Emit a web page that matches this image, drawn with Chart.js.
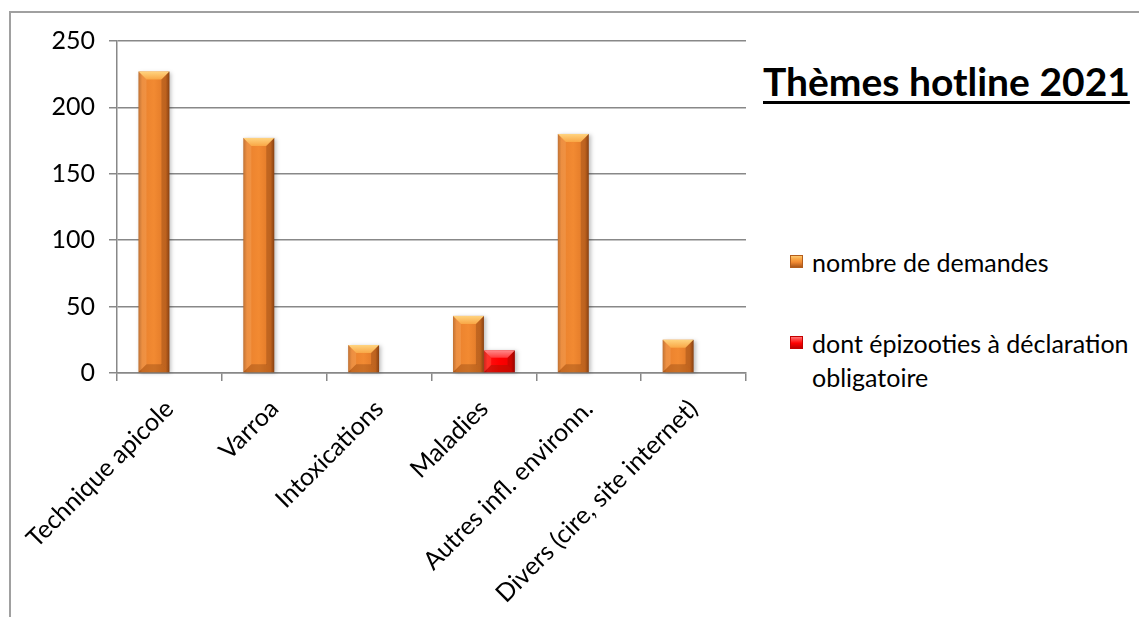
<!DOCTYPE html>
<html lang="fr">
<head>
<meta charset="utf-8">
<title>Thèmes hotline 2021</title>
<script src="https://cdn.jsdelivr.net/npm/chart.js@4.4.1/dist/chart.umd.min.js"></script>
<style>
  html, body { margin: 0; padding: 0; background: #fff; width: 1139px; height: 617px; overflow: hidden; }
  body { position: relative; font-family: Lato, "Open Sans", sans-serif; color: #000; }
  #cadre { position: absolute; left: 9px; top: 11px; width: 1300px; height: 800px;
           border-top: 2px solid #a0a0a0; border-left: 2px solid #a0a0a0; }
  #zone { position: absolute; left: 0; top: 0; width: 760px; height: 617px; }
  #titre { position: absolute; left: 763px; top: 58px; font-size: 39px; font-weight: bold;
           line-height: 47px; white-space: nowrap; text-decoration: underline;
           text-decoration-thickness: 3px; text-underline-offset: 5px; }
  .leg { position: absolute; left: 790px; font-size: 25px; line-height: 34px; white-space: nowrap; }
  .leg .boite { position: absolute; left: 0; top: 10px; width: 13px; height: 13px; }
  .leg .txt { position: absolute; left: 22px; top: 0; }
</style>
</head>
<body>
<div id="cadre"></div>
<div id="zone"><canvas id="graphique" width="760" height="617"></canvas></div>
<div id="titre">Thèmes hotline 2021</div>
<div id="legende"></div>

<script>
// données
const categories = ["Technique apicole", "Varroa", "Intoxications", "Maladies",
                    "Autres infl. environn.", "Divers (cire, site internet)"];
const nombreDemandes = [227, 177, 21, 43, 180, 25];
const epizooties = [0, 0, 0, 17, 0, 0];
const nomsSeries = ["nombre de demandes", "dont épizooties à déclaration obligatoire"];
const graduationsY = [0, 50, 100, 150, 200, 250];

// styles (couleurs des barres en relief)
const styles = [
  { corps: ["#b35d1c", "#ea812d", "#f28a32", "#e07827", "#9c4d16"], haut: ["#ffd480", "#f9a746"] },
  { corps: ["#c40000", "#ff1010", "#ff0000", "#f00000", "#b00000"], haut: ["#ff8a8a", "#ff3a3a"] }
];
const gris = "#888888";

const legendeLignes = [
  { top: 245, lignes: [nomsSeries[0]] },
  { top: 326, lignes: ["dont épizooties à déclaration", "obligatoire"] }
];

const legendeDiv = document.getElementById("legende");
legendeLignes.forEach((item, i) => {
  const div = document.createElement("div");
  div.className = "leg";
  div.style.top = item.top + "px";
  const s = styles[i];
  div.innerHTML = `<span class="boite" style="background:linear-gradient(180deg, ${s.haut[0]} 0%, ${s.haut[1]} 30%, ${s.corps[2]} 55%, ${s.corps[4]} 100%);box-shadow:inset 0 0 0 1px ${s.corps[0]}"></span>` +
    `<span class="txt">${item.lignes.join("<br>")}</span>`;
  legendeDiv.appendChild(div);
});

// relief des barres, dessiné à partir des éléments de Chart.js
const reliefBarres = {
  id: "reliefBarres",
  afterDatasetsDraw(chart) {
    const ctx = chart.ctx;
    chart.data.datasets.forEach((ds, i) => {
      const meta = chart.getDatasetMeta(i);
      const s = styles[i];
      meta.data.forEach(el => {
        const p = el.getProps(["x", "y", "base", "width"], true);
        const g = p.x - p.width / 2, d = p.x + p.width / 2;
        const h = p.y, b = p.base;
        if (b - h < 1) return;
        const bev = Math.min(8, (b - h) / 3, p.width / 3);
        ctx.save();
        ctx.shadowColor = "rgba(0,0,0,0.25)";
        ctx.shadowBlur = 4;
        ctx.shadowOffsetX = 2;
        ctx.shadowOffsetY = 1;
        const grad = ctx.createLinearGradient(g, 0, d, 0);
        [0, 0.12, 0.5, 0.88, 1].forEach((o, k) => grad.addColorStop(o, s.corps[k]));
        ctx.fillStyle = grad;
        ctx.fillRect(g, h, d - g, b - h);
        ctx.restore();

        ctx.save();
        // biseau du haut
        const gh = ctx.createLinearGradient(0, h, 0, h + bev);
        gh.addColorStop(0, s.haut[0]);
        gh.addColorStop(1, s.haut[1]);
        ctx.fillStyle = gh;
        ctx.beginPath();
        ctx.moveTo(g, h); ctx.lineTo(d, h); ctx.lineTo(d - bev, h + bev); ctx.lineTo(g + bev, h + bev);
        ctx.closePath(); ctx.fill();
        // biseau gauche
        ctx.fillStyle = "rgba(255,210,160,0.18)";
        ctx.beginPath();
        ctx.moveTo(g, h); ctx.lineTo(g + bev, h + bev); ctx.lineTo(g + bev, b - bev); ctx.lineTo(g, b);
        ctx.closePath(); ctx.fill();
        // biseau droit
        ctx.fillStyle = "rgba(70,25,0,0.22)";
        ctx.beginPath();
        ctx.moveTo(d, h); ctx.lineTo(d - bev, h + bev); ctx.lineTo(d - bev, b - bev); ctx.lineTo(d, b);
        ctx.closePath(); ctx.fill();
        // biseau du bas
        ctx.fillStyle = "rgba(90,35,0,0.25)";
        ctx.beginPath();
        ctx.moveTo(g, b); ctx.lineTo(d, b); ctx.lineTo(d - bev, b - bev); ctx.lineTo(g + bev, b - bev);
        ctx.closePath(); ctx.fill();
        ctx.restore();
      });
    });
  }
};

Chart.defaults.font.family = "Lato, 'Open Sans', sans-serif";
Chart.defaults.font.size = 25;
Chart.defaults.color = "#000";

new Chart(document.getElementById("graphique"), {
  type: "bar",
  data: {
    labels: categories,
    datasets: [
      { label: nomsSeries[0], data: nombreDemandes, backgroundColor: "rgba(0,0,0,0)" },
      { label: nomsSeries[1], data: epizooties, backgroundColor: "rgba(0,0,0,0)" }
    ]
  },
  options: {
    responsive: false,
    animation: false,
    layout: { padding: { top: 41, right: 14, left: 0, bottom: 0 } },
    datasets: { bar: { barPercentage: 1, categoryPercentage: 0.59 } },
    plugins: { legend: { display: false }, tooltip: { enabled: false } },
    scales: {
      x: {
        grid: { offset: true, drawOnChartArea: false, drawTicks: true, tickLength: 8, color: gris, lineWidth: 1.5 },
        border: { color: gris, width: 1.5 },
        ticks: { autoSkip: false, maxRotation: 45, minRotation: 45, padding: 13 },
        afterFit(scale) {
          scale.height = 244;
          scale.paddingLeft = 0;
          scale.paddingRight = 0;
        }
      },
      y: {
        min: 0,
        max: 250,
        afterBuildTicks(scale) {
          scale.ticks = graduationsY.map(v => ({ value: v }));
        },
        grid: { color: gris, lineWidth: 1.5, drawTicks: true, tickLength: 8 },
        border: { color: gris, width: 1.5 },
        ticks: { padding: 14 },
        afterFit(scale) {
          scale.width = 117;
        }
      }
    }
  },
  plugins: [reliefBarres]
});
</script>
</body>
</html>
